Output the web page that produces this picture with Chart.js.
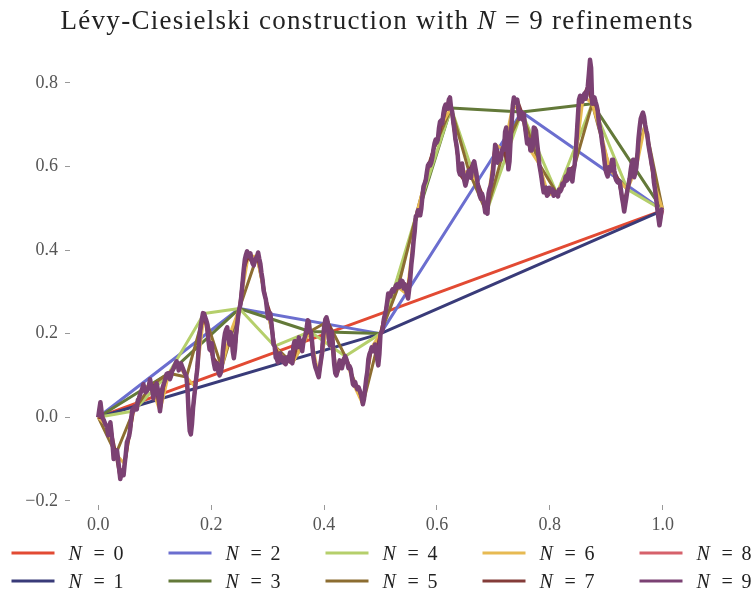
<!DOCTYPE html>
<html>
<head>
<meta charset="utf-8">
<script src="https://cdn.jsdelivr.net/npm/chart.js@4"></script>
<style>
  html, body { margin: 0; padding: 0; background: #fff; }
  #wrap { width: 753px; height: 594px; }
</style>
</head>
<body>
<div id="wrap"><canvas id="c" width="753" height="594"></canvas></div>
<script>
// Refinement levels shown (N = 0 ... 9)
const LEVELS = [0, 1, 2, 3, 4, 5, 6, 7, 8, 9];

// Sampled path on the finest dyadic grid t = i/512 (level N = 9).
// Level N uses every 2^(9-N)-th sample: the construction keeps the coarse
// dyadic values fixed and only adds detail between them.
const PATH_N9 = [
  0.000, 0.019, 0.036, 0.014, -0.002, -0.007, -0.014, -0.019, -0.022, -0.043, -0.029, -0.012, -0.036, -0.065, -0.100, -0.091,
  -0.088, -0.079, -0.100, -0.124, -0.148, -0.134, -0.127, -0.139, -0.112, -0.088, -0.060, -0.053, -0.045, -0.029, 0.000, 0.019,
  0.015, 0.026, 0.022, 0.019, 0.041, 0.045, 0.055, 0.062, 0.069, 0.079, 0.065, 0.060, 0.062, 0.067, 0.076, 0.091,
  0.076, 0.065, 0.045, 0.062, 0.076, 0.081, 0.067, 0.043, 0.014, 0.038, 0.067, 0.076, 0.084, 0.093, 0.103, 0.105,
  0.105, 0.091, 0.098, 0.110, 0.115, 0.122, 0.127, 0.134, 0.129, 0.112, 0.127, 0.129, 0.122, 0.115, 0.108, 0.103,
  0.096, 0.067, 0.007, -0.033, -0.041, -0.017, 0.022, 0.048, 0.072, 0.096, 0.119, 0.162, 0.198, 0.220, 0.234, 0.249,
  0.248, 0.239, 0.232, 0.222, 0.182, 0.162, 0.160, 0.177, 0.143, 0.127, 0.115, 0.124, 0.129, 0.108, 0.100, 0.105,
  0.119, 0.158, 0.184, 0.201, 0.210, 0.215, 0.189, 0.174, 0.203, 0.196, 0.158, 0.141, 0.162, 0.198, 0.222, 0.244,
  0.260, 0.270, 0.296, 0.325, 0.354, 0.378, 0.389, 0.397, 0.385, 0.389, 0.392, 0.378, 0.368, 0.363, 0.373, 0.380,
  0.385, 0.394, 0.380, 0.368, 0.346, 0.330, 0.303, 0.292, 0.282, 0.260, 0.237, 0.244, 0.249, 0.227, 0.201, 0.174,
  0.170, 0.143, 0.139, 0.131, 0.146, 0.153, 0.139, 0.134, 0.143, 0.129, 0.127, 0.143, 0.134, 0.143, 0.155, 0.134,
  0.129, 0.170, 0.182, 0.182, 0.167, 0.174, 0.191, 0.182, 0.167, 0.158, 0.179, 0.189, 0.198, 0.213, 0.232, 0.229,
  0.205, 0.205, 0.179, 0.146, 0.131, 0.119, 0.112, 0.103, 0.096, 0.117, 0.136, 0.153, 0.194, 0.217, 0.234, 0.239,
  0.229, 0.191, 0.172, 0.177, 0.205, 0.162, 0.127, 0.105, 0.100, 0.110, 0.124, 0.136, 0.131, 0.117, 0.129, 0.139,
  0.146, 0.139, 0.129, 0.117, 0.122, 0.115, 0.096, 0.079, 0.076, 0.084, 0.074, 0.067, 0.072, 0.065, 0.057, 0.048,
  0.031, 0.043, 0.067, 0.091, 0.108, 0.139, 0.151, 0.158, 0.167, 0.158, 0.158, 0.174, 0.158, 0.139, 0.124, 0.151,
  0.200, 0.203, 0.210, 0.234, 0.246, 0.256, 0.275, 0.296, 0.294, 0.289, 0.301, 0.306, 0.301, 0.308, 0.315, 0.318,
  0.311, 0.311, 0.323, 0.327, 0.325, 0.308, 0.318, 0.313, 0.294, 0.284, 0.306, 0.332, 0.366, 0.389, 0.421, 0.444,
  0.480, 0.483, 0.495, 0.492, 0.483, 0.499, 0.528, 0.552, 0.559, 0.566, 0.585, 0.602, 0.607, 0.602, 0.609, 0.621,
  0.640, 0.655, 0.664, 0.657, 0.664, 0.691, 0.707, 0.710, 0.703, 0.726, 0.741, 0.748, 0.743, 0.738, 0.760, 0.765,
  0.740, 0.731, 0.707, 0.688, 0.664, 0.650, 0.628, 0.590, 0.581, 0.583, 0.607, 0.585, 0.566, 0.554, 0.564, 0.578,
  0.590, 0.576, 0.573, 0.593, 0.607, 0.612, 0.597, 0.583, 0.562, 0.545, 0.530, 0.523, 0.535, 0.526, 0.509, 0.490,
  0.490, 0.487, 0.535, 0.547, 0.554, 0.569, 0.583, 0.616, 0.652, 0.645, 0.609, 0.628, 0.626, 0.616, 0.636, 0.645,
  0.640, 0.683, 0.693, 0.664, 0.593, 0.612, 0.664, 0.707, 0.746, 0.765, 0.755, 0.753, 0.760, 0.736, 0.714, 0.726,
  0.730, 0.712, 0.726, 0.698, 0.676, 0.655, 0.664, 0.664, 0.638, 0.638, 0.647, 0.693, 0.691, 0.686, 0.657, 0.633,
  0.605, 0.590, 0.573, 0.554, 0.538, 0.547, 0.549, 0.530, 0.533, 0.549, 0.540, 0.540, 0.545, 0.530, 0.533, 0.538,
  0.535, 0.528, 0.545, 0.540, 0.545, 0.559, 0.554, 0.564, 0.576, 0.566, 0.569, 0.593, 0.593, 0.578, 0.564, 0.588,
  0.602, 0.633, 0.674, 0.719, 0.760, 0.769, 0.767, 0.755, 0.769, 0.774, 0.762, 0.774, 0.791, 0.822, 0.855, 0.836,
  0.750, 0.760, 0.765, 0.755, 0.746, 0.734, 0.705, 0.691, 0.679, 0.657, 0.640, 0.616, 0.593, 0.583, 0.576, 0.598,
  0.593, 0.590, 0.616, 0.616, 0.590, 0.573, 0.566, 0.562, 0.566, 0.562, 0.545, 0.526, 0.511, 0.492, 0.509, 0.526,
  0.545, 0.557, 0.571, 0.593, 0.609, 0.616, 0.574, 0.583, 0.597, 0.628, 0.667, 0.693, 0.714, 0.722, 0.729, 0.719,
  0.700, 0.686, 0.676, 0.652, 0.636, 0.621, 0.604, 0.593, 0.562, 0.545, 0.523, 0.499, 0.478, 0.459, 0.476, 0.497,
  0.495
];

const X_TICKS = [0.0, 0.2, 0.4, 0.6, 0.8, 1.0];
const Y_TICKS = [-0.2, 0.0, 0.2, 0.4, 0.6, 0.8];

// Line colour per level
const COLORS = ['#e24a33', '#393b79', '#6b6ecf', '#637939', '#b5cf6b',
                '#8c6d31', '#e7ba52', '#843c39', '#d6616b', '#7b4173'];

const SERIF = '"Liberation Serif", "DejaVu Serif", serif';
const FINEST = 9;

const datasets = LEVELS.map(n => {
  const step = 2 ** (FINEST - n);
  const last = PATH_N9.length - 1;
  const pts = [];
  for (let i = 0; i <= last; i += step) pts.push({ x: i / last, y: PATH_N9[i] });
  return {
    label: 'N = ' + n,
    data: pts,
    borderColor: COLORS[n],
    backgroundColor: COLORS[n],
    borderWidth: n === FINEST ? 4.5 : 3,
    pointRadius: 0,
    tension: 0,
    fill: false,
    borderJoinStyle: 'round',
    order: FINEST - n   // finer levels are drawn over coarser ones
  };
});

function fmt(v) {
  return v.toFixed(1).replace('-', '\u2212');
}

// Text runs (some italic) drawn glyph by glyph with extra tracking
function runsWidth(ctx, runs, track) {
  let w = 0, n = 0;
  for (const r of runs) {
    ctx.font = r.font;
    for (const ch of r.text) { w += ctx.measureText(ch).width; n++; }
  }
  return w + track * (n - 1);
}
function drawRuns(ctx, runs, x, y, track) {
  for (const r of runs) {
    ctx.font = r.font;
    for (const ch of r.text) {
      ctx.fillText(ch, x, y);
      x += ctx.measureText(ch).width + track;
    }
  }
}

// Title and two-row legend with an italic N
const mathText = {
  id: 'mathText',
  afterDraw(chart) {
    const ctx = chart.ctx;
    ctx.save();
    ctx.fillStyle = '#222';
    ctx.textBaseline = 'alphabetic';
    ctx.textAlign = 'left';

    const tSize = 27;
    const title = [
      { text: 'Lévy-Ciesielski construction with ', font: `${tSize}px ${SERIF}` },
      { text: 'N', font: `italic ${tSize}px ${SERIF}` },
      { text: ' = 9 refinements', font: `${tSize}px ${SERIF}` }
    ];
    const titleWidth = 632;
    const nChars = title.reduce((s, r) => s + [...r.text].length, 0);
    const track = (titleWidth - runsWidth(ctx, title, 0)) / (nChars - 1);
    drawRuns(ctx, title, chart.width / 2 - titleWidth / 2, 29, track);

    // legend: 5 columns x 2 rows, filled column by column
    const lSize = 20;
    chart.data.datasets.forEach((ds, k) => {
      const col = Math.floor(k / 2), row = k % 2;
      const x0 = 11.5 + col * 157;
      const yc = 553 + row * 28;
      ctx.strokeStyle = ds.borderColor;
      ctx.lineWidth = 3;
      ctx.lineCap = 'butt';
      ctx.beginPath();
      ctx.moveTo(x0, yc);
      ctx.lineTo(x0 + 43, yc);
      ctx.stroke();
      const num = ds.label.split('=')[1].trim();
      const base = yc + 7;
      ctx.font = `italic ${lSize}px ${SERIF}`;
      ctx.fillText('N', x0 + 57, base);
      ctx.font = `${lSize}px ${SERIF}`;
      ctx.fillText('=', x0 + 82, base);
      ctx.fillText(num, x0 + 102, base);
    });
    ctx.restore();
  }
};

new Chart(document.getElementById('c'), {
  type: 'line',
  data: { datasets },
  options: {
    responsive: false,
    animation: false,
    devicePixelRatio: 1,
    layout: { padding: { top: 41, right: 62, left: 0, bottom: 0 } },
    plugins: {
      legend: { display: false },
      title: { display: false },
      tooltip: { enabled: false }
    },
    scales: {
      x: {
        type: 'linear',
        min: -0.05,
        max: 1.05,
        afterBuildTicks: s => { s.ticks = X_TICKS.map(v => ({ value: v })); },
        afterFit: s => { s.height = 89; },
        border: { display: false },
        grid: { drawOnChartArea: false, drawTicks: true, tickLength: 5, color: '#999' },
        ticks: {
          padding: 4,
          color: '#555',
          font: { family: SERIF, size: 18 },
          callback: v => fmt(v)
        }
      },
      y: {
        type: 'linear',
        min: -0.21,
        max: 0.9,
        afterBuildTicks: s => { s.ticks = Y_TICKS.map(v => ({ value: v })); },
        afterFit: s => { s.width = 70; },
        border: { display: false },
        grid: { drawOnChartArea: false, drawTicks: true, tickLength: 5, color: '#999' },
        ticks: {
          padding: 7,
          color: '#555',
          font: { family: SERIF, size: 18 },
          callback: v => fmt(v)
        }
      }
    }
  },
  plugins: [mathText]
});
</script>
</body>
</html>
